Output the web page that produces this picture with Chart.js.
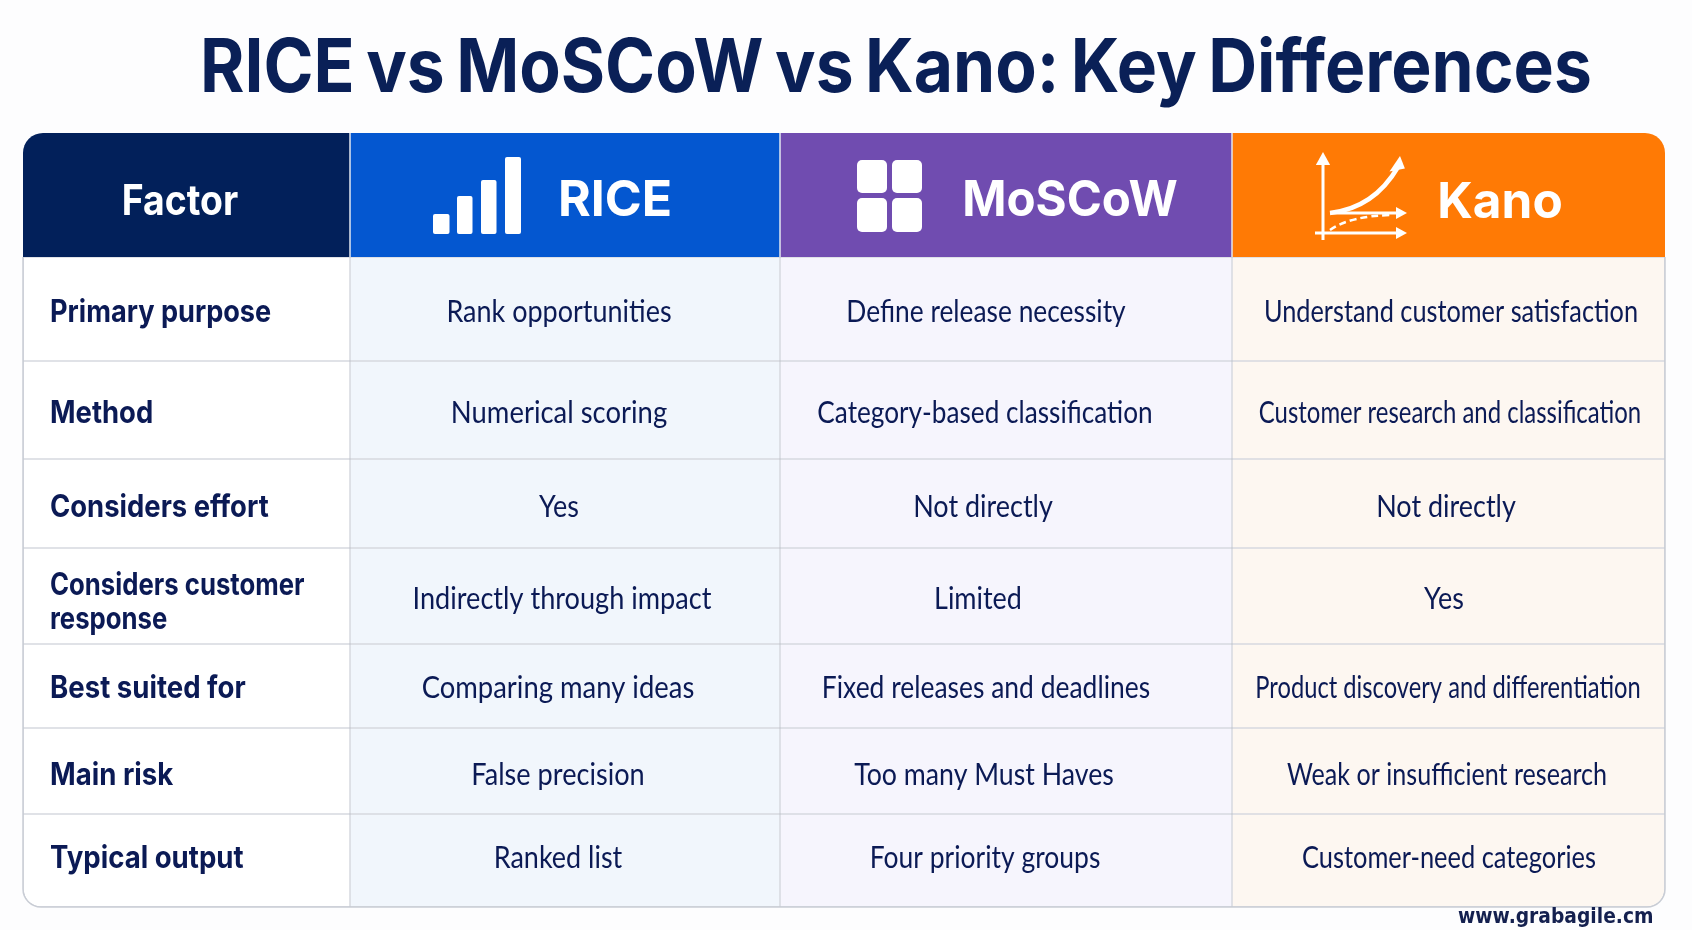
<!DOCTYPE html>
<html>
<head>
<meta charset="utf-8">
<title>RICE vs MoSCoW vs Kano</title>
<script src="https://cdn.jsdelivr.net/npm/chart.js@4/dist/chart.umd.min.js"></script>
<style>
html, body { margin: 0; padding: 0; background: #fdfdfe; }
canvas { display: block; }
</style>
</head>
<body>
<canvas id="myChart" width="1692" height="930"></canvas>
<script>
const titleText = "RICE vs MoSCoW vs Kano: Key Differences";
const columns = ["Factor", "RICE", "MoSCoW", "Kano"];
const factors = [
    ["Primary purpose"],
    ["Method"],
    ["Considers effort"],
    ["Considers customer", "response"],
    ["Best suited for"],
    ["Main risk"],
    ["Typical output"]
];
const riceCells = ["Rank opportunities", "Numerical scoring", "Yes", "Indirectly through impact", "Comparing many ideas", "False precision", "Ranked list"];
const moscowCells = ["Define release necessity", "Category-based classification", "Not directly", "Limited", "Fixed releases and deadlines", "Too many Must Haves", "Four priority groups"];
const kanoCells = ["Understand customer satisfaction", "Customer research and classification", "Not directly", "Yes", "Product discovery and differentiation", "Weak or insufficient research", "Customer-need categories"];
const watermark = "www.grabagile.cm";

// table grid, the two scales below run in page pixels
const colEdges = [23, 350, 780, 1232, 1665];
const rowEdges = [133, 257, 361, 459, 548, 644, 728, 814, 907];

// where the text of each cell sits and how much it is narrowed
const riceTextX = [559, 559, 559, 562, 558, 558, 558];
const moscowTextX = [986, 985, 983, 978, 986, 984, 985];
const kanoTextX = [1451, 1450, 1446, 1444, 1448, 1447, 1449];
const rowTextY = [312, 413, 507, 599, 688, 775, 858];
const factorSqueeze = [0.875, 0.885, 0.885, 0.83, 0.89, 0.89, 0.89];
const riceSqueeze = [0.87, 0.885, 0.87, 0.875, 0.885, 0.875, 0.87];
const moscowSqueeze = [0.85, 0.845, 0.87, 0.87, 0.853, 0.862, 0.854];
const kanoSqueeze = [0.816, 0.772, 0.87, 0.87, 0.765, 0.81, 0.82];

const headColors = ["#02205a", "#0457d0", "#704cb0", "#ff7a05"];
const bodyColors = ["#ffffff", "#f1f6fc", "#f6f5fd", "#fdf7f1"];
const lineColor = "#c9cdd5";
const navy = "#0b1a55";

const rowCount = rowEdges.length - 1;

const buildColumn = (c) => {
    const data = [];
    for (let r = 0; r < rowCount; r++) {
        data.push({ x: (colEdges[c] + colEdges[c + 1]) / 2, y: [rowEdges[r], rowEdges[r + 1]] });
    }
    return {
        data: data,
        barThickness: colEdges[c + 1] - colEdges[c],
        backgroundColor: (ctx) => ctx.dataIndex == 0 ? headColors[c] : bodyColors[c],
        borderColor: (ctx) => ctx.dataIndex == 0 ? headColors[c] : lineColor,
        borderWidth: (ctx) => ctx.dataIndex == 0 ? 0 : 0.75,
        borderSkipped: false,
        inflateAmount: 0,
        borderRadius: (ctx) => {
            const radius = { topLeft: 0, topRight: 0, bottomLeft: 0, bottomRight: 0 };
            if (ctx.dataIndex == 0 && c == 0) radius.topLeft = 20;
            if (ctx.dataIndex == 0 && c == 3) radius.topRight = 20;
            if (ctx.dataIndex == rowCount - 1 && c == 0) radius.bottomLeft = 18;
            if (ctx.dataIndex == rowCount - 1 && c == 3) radius.bottomRight = 18;
            return radius;
        }
    };
};

const putText = (ctx, text, x, y, font, color, align, squeeze, wordGap) => {
    ctx.save();
    ctx.font = font;
    ctx.fillStyle = color;
    ctx.textAlign = align;
    ctx.textBaseline = "middle";
    if (wordGap) ctx.wordSpacing = wordGap;
    ctx.translate(x, y);
    ctx.scale(squeeze, 1);
    ctx.fillText(text, 0, 0);
    ctx.restore();
};

const roundBox = (ctx, x, y, w, h, r) => {
    ctx.beginPath();
    ctx.roundRect(x, y, w, h, r);
    ctx.fill();
};

const arrowHead = (ctx, x, y, dx, dy, size) => {
    ctx.beginPath();
    ctx.moveTo(x, y);
    ctx.lineTo(x - dx * size - dy * size * 0.55, y - dy * size - dx * size * 0.55);
    ctx.lineTo(x - dx * size + dy * size * 0.55, y - dy * size + dx * size * 0.55);
    ctx.closePath();
    ctx.fill();
};

const drawIcons = (ctx) => {
    ctx.save();
    ctx.fillStyle = "#ffffff";
    ctx.strokeStyle = "#ffffff";
    // RICE bars
    roundBox(ctx, 433, 214, 16.5, 20, 2);
    roundBox(ctx, 457, 196, 15.5, 38, 2);
    roundBox(ctx, 481, 180, 15.5, 54, 2);
    roundBox(ctx, 505, 157, 16, 77, 2);
    // MoSCoW squares
    roundBox(ctx, 857, 160, 30, 33, 5);
    roundBox(ctx, 892, 160, 30, 33, 5);
    roundBox(ctx, 857, 198, 30, 34, 5);
    roundBox(ctx, 892, 198, 30, 34, 5);
    // Kano axes and curves
    ctx.lineWidth = 3;
    ctx.beginPath();
    ctx.moveTo(1323, 240); ctx.lineTo(1323, 160);
    ctx.moveTo(1315, 233); ctx.lineTo(1400, 233);
    ctx.moveTo(1330, 213); ctx.lineTo(1400, 213);
    ctx.stroke();
    arrowHead(ctx, 1323, 152, 0, -1, 13);
    arrowHead(ctx, 1407, 233, 1, 0, 11);
    arrowHead(ctx, 1407, 213, 1, 0, 11);
    ctx.lineWidth = 4.5;
    ctx.beginPath();
    ctx.moveTo(1330, 213);
    ctx.quadraticCurveTo(1374, 208, 1398, 167);
    ctx.stroke();
    arrowHead(ctx, 1400, 156, 0.2, -1, 14);
    ctx.lineWidth = 2.5;
    ctx.setLineDash([7, 4]);
    ctx.beginPath();
    ctx.moveTo(1330, 230);
    ctx.quadraticCurveTo(1350, 216, 1391, 215);
    ctx.stroke();
    ctx.restore();
};

const tableText = {
    id: "tableText",
    afterDatasetsDraw(chart) {
        const ctx = chart.ctx;
        const area = chart.chartArea;
        // outer outline, only around the body rows
        ctx.save();
        ctx.beginPath();
        ctx.rect(0, rowEdges[1], chart.width, chart.height - rowEdges[1]);
        ctx.clip();
        ctx.strokeStyle = lineColor;
        ctx.lineWidth = 1.5;
        ctx.beginPath();
        ctx.roundRect(area.left, area.top, area.right - area.left, area.bottom - area.top, [20, 20, 18, 18]);
        ctx.stroke();
        ctx.restore();

        // light separators between the header cells
        ctx.save();
        ctx.strokeStyle = "#e3e7f0";
        ctx.lineWidth = 1.5;
        for (let c = 1; c < colEdges.length - 1; c++) {
            ctx.beginPath();
            ctx.moveTo(chart.scales.x.getPixelForValue(colEdges[c]), rowEdges[0]);
            ctx.lineTo(chart.scales.x.getPixelForValue(colEdges[c]), rowEdges[1]);
            ctx.stroke();
        }
        ctx.restore();

        putText(ctx, titleText, 200, 70, "700 74px Inter", "#0a2057", "left", 0.915, "-5px");
        putText(ctx, columns[0], 180, 202, "700 42px Inter", "#ffffff", "center", 0.89);
        putText(ctx, columns[1], 615, 201, "700 50px Inter", "#ffffff", "center", 1);
        putText(ctx, columns[2], 1070, 201, "700 50px Inter", "#ffffff", "center", 0.95);
        putText(ctx, columns[3], 1500, 203, "700 50px Inter", "#ffffff", "center", 0.99);
        drawIcons(ctx);

        for (let r = 0; r < factors.length; r++) {
            if (factors[r].length == 2) {
                putText(ctx, factors[r][0], 50, rowTextY[r] - 13, "700 31px Inter", navy, "left", factorSqueeze[r]);
                putText(ctx, factors[r][1], 50, rowTextY[r] + 21, "700 31px Inter", navy, "left", factorSqueeze[r]);
            } else {
                putText(ctx, factors[r][0], 50, rowTextY[r] + 1, "700 31px Inter", navy, "left", factorSqueeze[r]);
            }
            putText(ctx, riceCells[r], riceTextX[r], rowTextY[r], "400 31px Lato", navy, "center", riceSqueeze[r]);
            putText(ctx, moscowCells[r], moscowTextX[r], rowTextY[r], "400 31px Lato", navy, "center", moscowSqueeze[r]);
            putText(ctx, kanoCells[r], kanoTextX[r], rowTextY[r], "400 31px Lato", navy, "center", kanoSqueeze[r]);
        }
        putText(ctx, watermark, 1458, 917, "700 22px 'DejaVu Sans'", "#14204f", "left", 0.85);
    }
};

const renderChart = () => {
    const datasets = [];
    for (let c = 0; c < columns.length; c++) {
        datasets.push(buildColumn(c));
    }
    new Chart(document.getElementById("myChart").getContext("2d"), {
        type: "bar",
        data: { datasets: datasets },
        plugins: [tableText],
        options: {
            responsive: false,
            animation: false,
            devicePixelRatio: 1,
            layout: {
                padding: {
                    left: colEdges[0],
                    right: 1692 - colEdges[colEdges.length - 1],
                    top: rowEdges[0],
                    bottom: 930 - rowEdges[rowEdges.length - 1]
                }
            },
            datasets: { bar: { grouped: false } },
            scales: {
                x: { type: "linear", display: false, min: colEdges[0], max: colEdges[colEdges.length - 1], offset: false },
                y: { type: "linear", display: false, min: rowEdges[0], max: rowEdges[rowEdges.length - 1], reverse: true }
            },
            plugins: {
                legend: { display: false },
                tooltip: { enabled: false }
            }
        }
    });
};
renderChart();
</script>
</body>
</html>
